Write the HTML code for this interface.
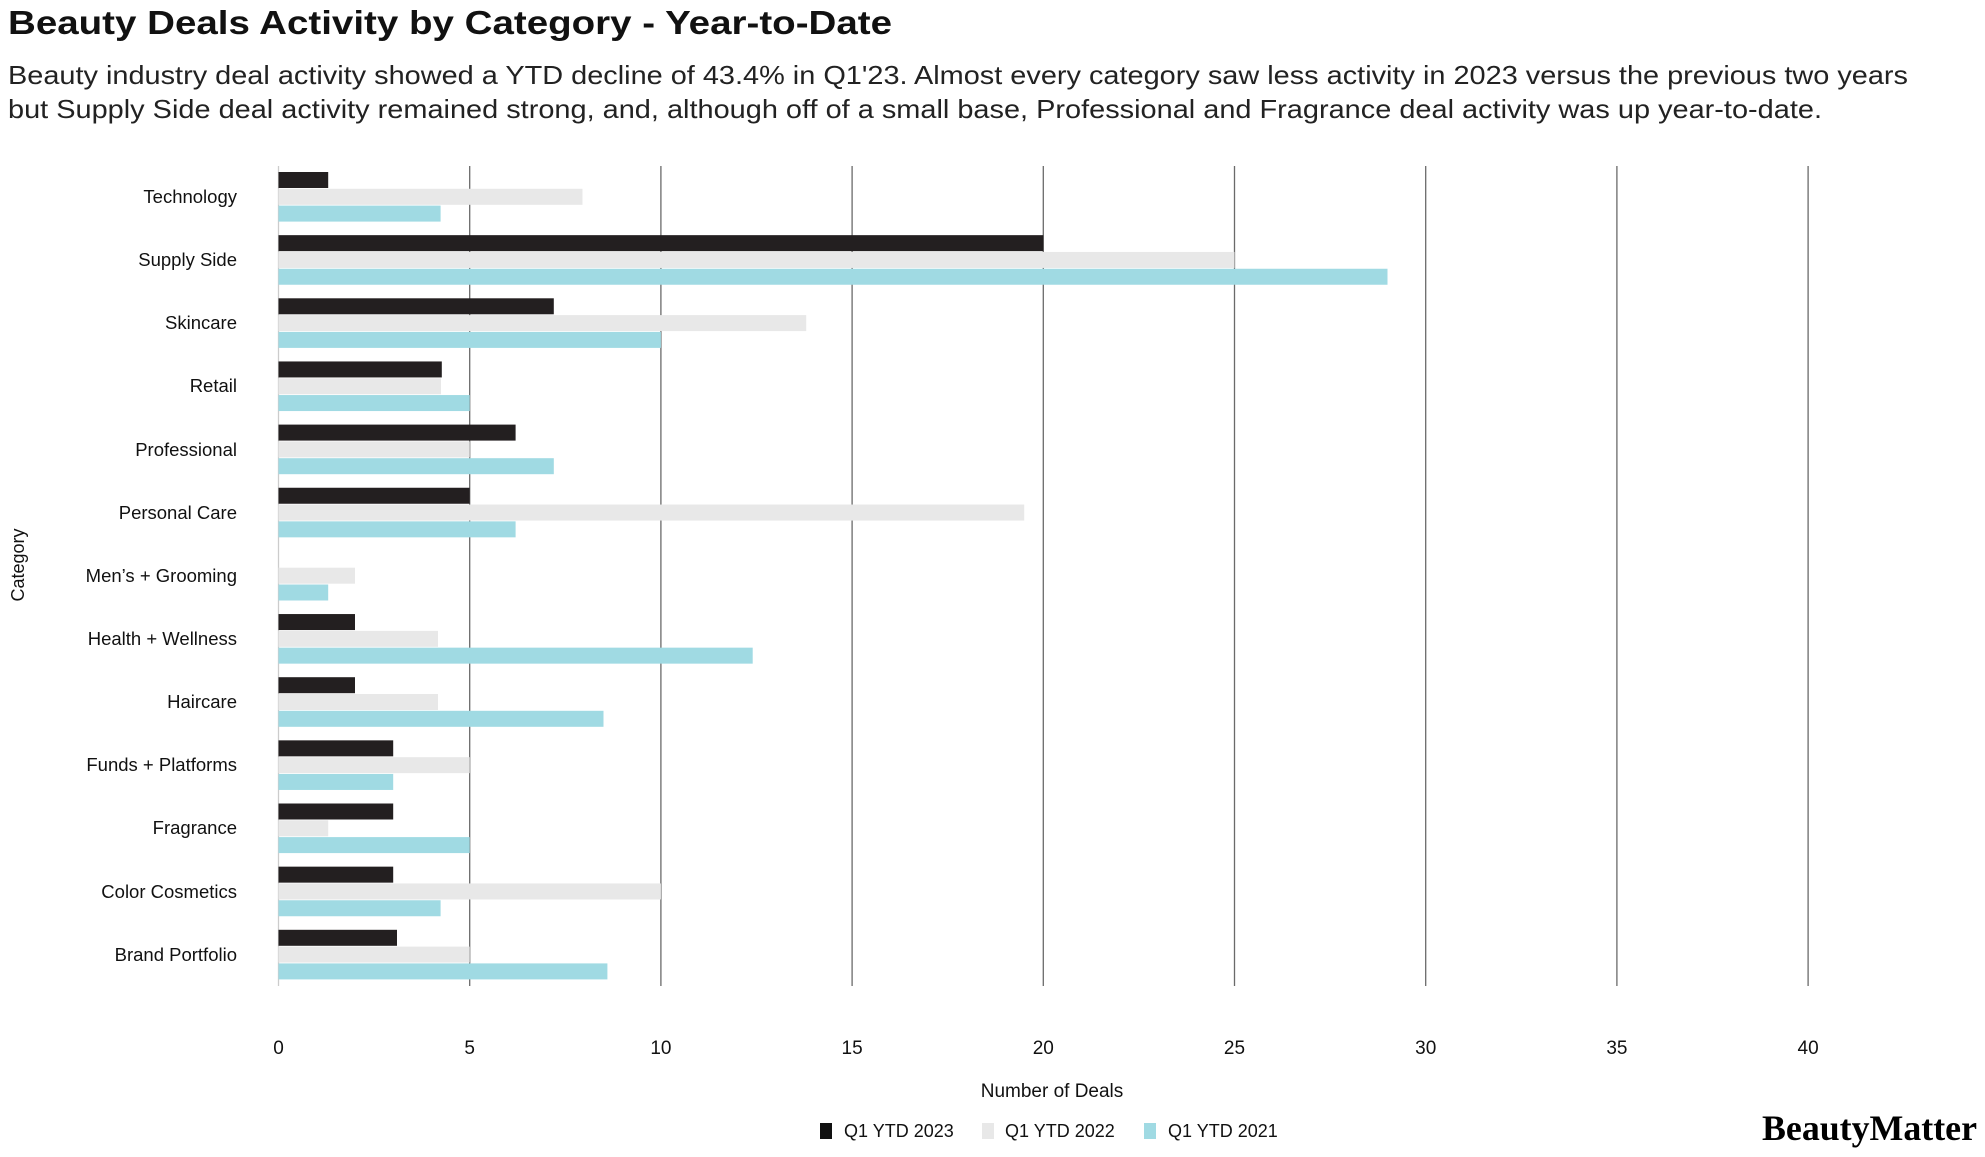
<!DOCTYPE html>
<html><head><meta charset="utf-8"><style>html,body{margin:0;padding:0;background:#fff}svg{display:block}</style></head><body>
<svg width="1985" height="1157" xmlns="http://www.w3.org/2000/svg" font-family="Liberation Sans, sans-serif">
<text x="8" y="34" font-size="33" font-weight="bold" fill="#111" textLength="884" lengthAdjust="spacingAndGlyphs">Beauty Deals Activity by Category - Year-to-Date</text>
<text x="8" y="84" font-size="26" fill="#222" textLength="1900" lengthAdjust="spacingAndGlyphs">Beauty industry deal activity showed a YTD decline of 43.4% in Q1'23. Almost every category saw less activity in 2023 versus the previous two years</text>
<text x="8" y="118" font-size="26" fill="#222" textLength="1814" lengthAdjust="spacingAndGlyphs">but Supply Side deal activity remained strong, and, although off of a small base, Professional and Fragrance deal activity was up year-to-date.</text>
<g stroke="#6a6a6a" stroke-width="1.3">
<line x1="278.5" y1="166" x2="278.5" y2="986" stroke="#ccc"/>
<line x1="469.7" y1="166" x2="469.7" y2="986"/><line x1="660.9" y1="166" x2="660.9" y2="986"/>
<line x1="852.1" y1="166" x2="852.1" y2="986"/><line x1="1043.3" y1="166" x2="1043.3" y2="986"/>
<line x1="1234.5" y1="166" x2="1234.5" y2="986"/><line x1="1425.7" y1="166" x2="1425.7" y2="986"/>
<line x1="1616.9" y1="166" x2="1616.9" y2="986"/><line x1="1808.1" y1="166" x2="1808.1" y2="986"/>
</g>
<g>
<rect x="278.5" y="172" width="49.7" height="16" fill="#231f20"/><rect x="278.5" y="188.8" width="304" height="16" fill="#e8e8e8"/><rect x="278.5" y="205.6" width="162.1" height="16" fill="#a0dae3"/>
<rect x="278.5" y="235.15" width="764.8" height="16" fill="#231f20"/><rect x="278.5" y="251.95" width="956" height="16" fill="#e8e8e8"/><rect x="278.5" y="268.75" width="1109" height="16" fill="#a0dae3"/>
<rect x="278.5" y="298.3" width="275.3" height="16" fill="#231f20"/><rect x="278.5" y="315.1" width="527.7" height="16" fill="#e8e8e8"/><rect x="278.5" y="331.9" width="382.4" height="16" fill="#a0dae3"/>
<rect x="278.5" y="361.45" width="163.3" height="16" fill="#231f20"/><rect x="278.5" y="378.25" width="162.5" height="16" fill="#e8e8e8"/><rect x="278.5" y="395.05" width="191.2" height="16" fill="#a0dae3"/>
<rect x="278.5" y="424.6" width="237.1" height="16" fill="#231f20"/><rect x="278.5" y="441.4" width="191.2" height="16" fill="#e8e8e8"/><rect x="278.5" y="458.2" width="275.3" height="16" fill="#a0dae3"/>
<rect x="278.5" y="487.75" width="191.2" height="16" fill="#231f20"/><rect x="278.5" y="504.55" width="745.7" height="16" fill="#e8e8e8"/><rect x="278.5" y="521.35" width="237.1" height="16" fill="#a0dae3"/>
<rect x="278.5" y="567.7" width="76.5" height="16" fill="#e8e8e8"/><rect x="278.5" y="584.5" width="49.7" height="16" fill="#a0dae3"/>
<rect x="278.5" y="614.05" width="76.5" height="16" fill="#231f20"/><rect x="278.5" y="630.85" width="159.5" height="16" fill="#e8e8e8"/><rect x="278.5" y="647.65" width="474.2" height="16" fill="#a0dae3"/>
<rect x="278.5" y="677.2" width="76.5" height="16" fill="#231f20"/><rect x="278.5" y="694" width="159.5" height="16" fill="#e8e8e8"/><rect x="278.5" y="710.8" width="325" height="16" fill="#a0dae3"/>
<rect x="278.5" y="740.35" width="114.7" height="16" fill="#231f20"/><rect x="278.5" y="757.15" width="191.2" height="16" fill="#e8e8e8"/><rect x="278.5" y="773.95" width="114.7" height="16" fill="#a0dae3"/>
<rect x="278.5" y="803.5" width="114.7" height="16" fill="#231f20"/><rect x="278.5" y="820.3" width="49.7" height="16" fill="#e8e8e8"/><rect x="278.5" y="837.1" width="191.2" height="16" fill="#a0dae3"/>
<rect x="278.5" y="866.65" width="114.7" height="16" fill="#231f20"/><rect x="278.5" y="883.45" width="382.4" height="16" fill="#e8e8e8"/><rect x="278.5" y="900.25" width="162.1" height="16" fill="#a0dae3"/>
<rect x="278.5" y="929.8" width="118.5" height="16" fill="#231f20"/><rect x="278.5" y="946.6" width="191.2" height="16" fill="#e8e8e8"/><rect x="278.5" y="963.4" width="328.9" height="16" fill="#a0dae3"/>
</g>
<g font-size="18.5" fill="#111" text-anchor="end">
<text x="237" y="203">Technology</text>
<text x="237" y="266">Supply Side</text>
<text x="237" y="329">Skincare</text>
<text x="237" y="392">Retail</text>
<text x="237" y="456">Professional</text>
<text x="237" y="519">Personal Care</text>
<text x="237" y="582">Men’s + Grooming</text>
<text x="237" y="645">Health + Wellness</text>
<text x="237" y="708">Haircare</text>
<text x="237" y="771">Funds + Platforms</text>
<text x="237" y="834">Fragrance</text>
<text x="237" y="898">Color Cosmetics</text>
<text x="237" y="961">Brand Portfolio</text>
</g>
<g font-size="19" fill="#111" text-anchor="middle">
<text x="278.5" y="1054">0</text><text x="469.7" y="1054">5</text><text x="660.9" y="1054">10</text><text x="852.1" y="1054">15</text><text x="1043.3" y="1054">20</text><text x="1234.5" y="1054">25</text><text x="1425.7" y="1054">30</text><text x="1616.9" y="1054">35</text><text x="1808.1" y="1054">40</text>
<text x="1052" y="1097">Number of Deals</text>
</g>
<text transform="translate(24,565) rotate(-90)" font-size="18" fill="#111" text-anchor="middle">Category</text>
<g font-size="18" fill="#111">
<rect x="820" y="1123" width="12" height="16" fill="#111"/><text x="844" y="1137">Q1 YTD 2023</text>
<rect x="982" y="1123" width="12" height="16" fill="#e8e8e8"/><text x="1005" y="1137">Q1 YTD 2022</text>
<rect x="1144" y="1123" width="12" height="16" fill="#a0dae3"/><text x="1168" y="1137">Q1 YTD 2021</text>
</g>
<text x="1762" y="1140" font-family="Liberation Serif, serif" font-weight="bold" font-size="36" fill="#000" textLength="215" lengthAdjust="spacingAndGlyphs">BeautyMatter</text>
</svg>
</body></html>
